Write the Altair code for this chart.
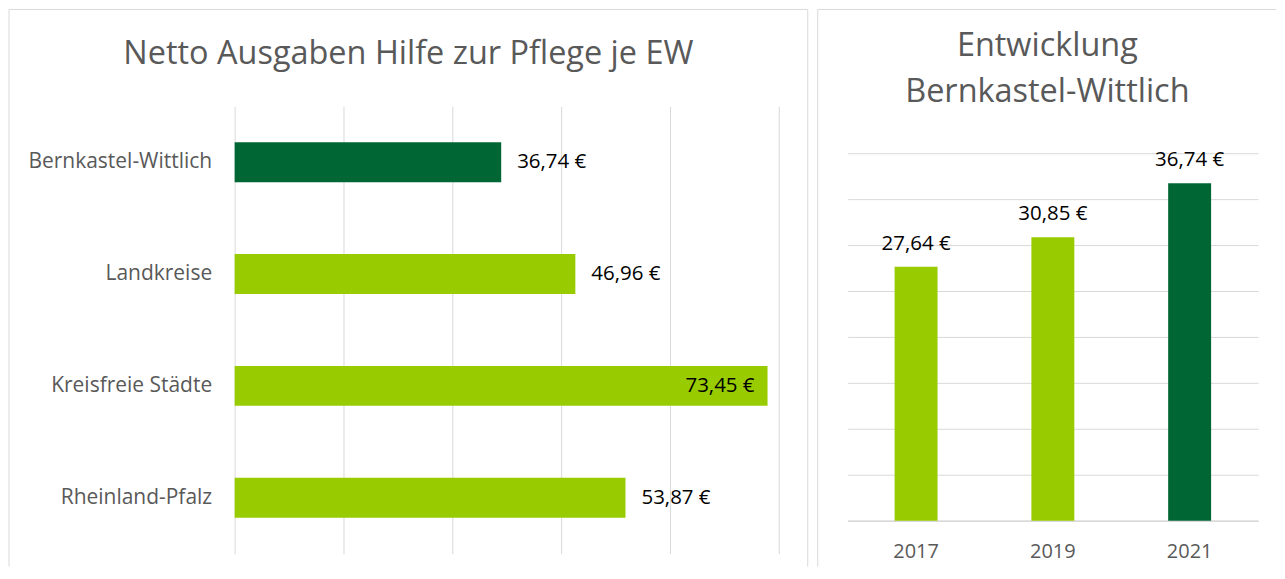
import altair as alt
import pandas as pd

# ---- data ----
regions = ["Bernkastel-Wittlich", "Landkreise", "Kreisfreie Städte", "Rheinland-Pfalz"]
region_values = [36.74, 46.96, 73.45, 53.87]
region_colors = ["#006633", "#99CC00", "#99CC00", "#99CC00"]

years = ["2017", "2019", "2021"]
year_values = [27.64, 30.85, 36.74]
year_colors = ["#99CC00", "#99CC00", "#006633"]

left_title = "Netto Ausgaben Hilfe zur Pflege je EW"
right_title = ["Entwicklung", "Bernkastel-Wittlich"]

x_ticks = [0, 15, 30, 45, 60, 75]
y_ticks = [0, 5, 10, 15, 20, 25, 30, 35, 40]


def euro(v):
    return f"{v:.2f}".replace(".", ",") + " €"


FONT = "Open Sans"
GRID = "#d9d9d9"
BORDER = "#d9d9d9"
TEXT_GRAY = "#595959"

left_df = pd.DataFrame({
    "region": regions,
    "value": region_values,
    "color": region_colors,
    "label": [euro(v) for v in region_values],
})
left_df["inside"] = left_df["value"] == left_df["value"].max()

right_df = pd.DataFrame({
    "year": years,
    "value": year_values,
    "color": year_colors,
    "label": [euro(v) for v in year_values],
})

one = alt.Data(values=[{}])

# ---- left panel ----
LW, LH = 545, 448
base_l = alt.Chart(left_df).encode(
    y=alt.Y("region:N", sort=regions,
            scale=alt.Scale(paddingInner=0.643, paddingOuter=0.3215),
            axis=alt.Axis(title=None, domain=False, ticks=False, grid=False,
                          labelFont=FONT, labelFontSize=21, labelColor=TEXT_GRAY,
                          labelPadding=23, labelLimit=400)),
    x=alt.X("value:Q", scale=alt.Scale(domain=[0, 75], nice=False),
            axis=alt.Axis(title=None, values=x_ticks, labels=False, ticks=False,
                          domain=False, grid=True, gridColor=GRID, gridWidth=1)),
)
bars_l = base_l.mark_bar().encode(color=alt.Color("color:N", scale=None))
text_out = base_l.mark_text(align="left", baseline="middle", dx=16, font=FONT,
                            fontSize=20.5, color="black").encode(
    text="label:N").transform_filter("!datum.inside")
text_in = base_l.mark_text(align="right", baseline="middle", dx=-13, font=FONT,
                           fontSize=20.5, color="black").encode(
    text="label:N").transform_filter("datum.inside")

title_l = alt.Chart(one).mark_text(text=left_title, font=FONT, fontSize=32.5,
                                   color=TEXT_GRAY, align="center",
                                   baseline="alphabetic").encode(
    x=alt.value(174), y=alt.value(-42))

bl_left = alt.Chart(one).mark_rule(color=BORDER, strokeWidth=1).encode(
    x=alt.value(-226), y=alt.value(-97), y2=alt.value(461))
bl_right = alt.Chart(one).mark_rule(color=BORDER, strokeWidth=1).encode(
    x=alt.value(574), y=alt.value(-97), y2=alt.value(461))
bl_top = alt.Chart(one).mark_rule(color=BORDER, strokeWidth=1).encode(
    x=alt.value(-226), x2=alt.value(574), y=alt.value(-97))

left = alt.layer(bars_l, text_out, text_in, title_l, bl_left, bl_right, bl_top).properties(
    width=LW, height=LH)

# ---- right panel ----
# plot area starts at the same top as the left one; the axis top (40) sits lower
RW, RH = 411, 415
y_top = 40 * RH / 368
base_r = alt.Chart(right_df).encode(
    x=alt.X("year:N", sort=years,
            scale=alt.Scale(paddingInner=0.686, paddingOuter=0.343),
            axis=alt.Axis(title=None, labelAngle=0, domain=True, domainColor=GRID,
                          domainWidth=1.5, ticks=False, labelFont=FONT,
                          labelFontSize=20, labelColor=TEXT_GRAY, labelPadding=21)),
    y=alt.Y("value:Q", scale=alt.Scale(domain=[0, y_top], nice=False),
            axis=alt.Axis(title=None, values=y_ticks, labels=False, ticks=False,
                          domain=False, grid=True, gridColor=GRID, gridWidth=1)),
)
bars_r = base_r.mark_bar().encode(color=alt.Color("color:N", scale=None))
text_r = base_r.mark_text(baseline="alphabetic", dy=-17, font=FONT, fontSize=20.5,
                          color="black").encode(text="label:N")

title_r = alt.Chart(one).mark_text(text=right_title, font=FONT, fontSize=32.5,
                                   color=TEXT_GRAY, align="center",
                                   baseline="alphabetic", lineHeight=46).encode(
    x=alt.value(200), y=alt.value(-50))

br_left = alt.Chart(one).mark_rule(color=BORDER, strokeWidth=1).encode(
    x=alt.value(-30), y=alt.value(-97), y2=alt.value(461))
br_top = alt.Chart(one).mark_rule(color=BORDER, strokeWidth=1).encode(
    x=alt.value(-30), x2=alt.value(429), y=alt.value(-97))

right = alt.layer(bars_r, text_r, title_r, br_left, br_top).properties(
    width=RW, height=RH)

chart = alt.hconcat(left, right, spacing=8).properties(
    padding=0, background="white").configure_view(strokeWidth=0, stroke="transparent")

chart.save("out.html", embed_options={"renderer": "svg", "actions": False})
